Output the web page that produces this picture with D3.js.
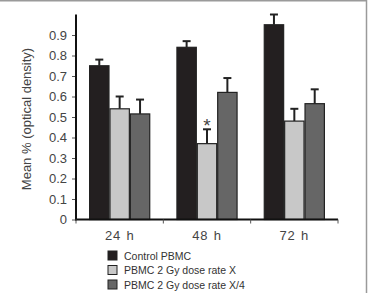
<!DOCTYPE html>
<html>
<head>
<meta charset="utf-8">
<script src="https://cdn.jsdelivr.net/npm/d3@7"></script>
<style>
  body { margin: 0; background: #fff; }
  svg { display: block; font-family: "Liberation Sans", Arial, sans-serif; }
</style>
</head>
<body>
<svg id="chart" width="369" height="293"></svg>
<script>
const categories = ['24 h', '48 h', '72 h'];
const seriesNames = ['Control PBMC', 'PBMC 2 Gy dose rate X', 'PBMC 2 Gy dose rate X/4'];
const controlValues = [0.75, 0.84, 0.95];
const doseXValues = [0.54, 0.37, 0.48];
const doseX4Values = [0.515, 0.62, 0.565];
const controlErr = [0.03, 0.03, 0.05];
const doseXErr = [0.06, 0.07, 0.06];
const doseX4Err = [0.07, 0.07, 0.07];
const yTicks = [0, 0.1, 0.2, 0.3, 0.4, 0.5, 0.6, 0.7, 0.8, 0.9];
const starred = [{ cat: '48 h', series: 1 }];

const colors = ['#231f20', '#c8c8c8', '#666666'];

const svg = d3.select('#chart');
const width = 369;
const height = 293;

const plotLeft = 76;
const plotRight = 338;
const plotTop = 14.5;
const plotBottom = 219.5;

// frame lines (top and right edge)
svg.append('line')
  .attr('x1', 0).attr('x2', 367).attr('y1', 0.75).attr('y2', 0.75)
  .attr('stroke', '#9a9a9a').attr('stroke-width', 1.5);
svg.append('line')
  .attr('x1', 366.5).attr('x2', 366.5).attr('y1', 0).attr('y2', height)
  .attr('stroke', '#9a9a9a').attr('stroke-width', 1.5);

const yScale = d3.scaleLinear()
  .domain([0, 1])
  .range([plotBottom, plotTop]);

const x0 = d3.scaleBand()
  .domain(categories)
  .range([plotLeft, plotRight])
  .paddingInner(0.3)
  .paddingOuter(0.15);

const x1 = d3.scaleBand()
  .domain([0, 1, 2])
  .range([0, x0.bandwidth()])
  .padding(0);

const values = [controlValues, doseXValues, doseX4Values];
const errs = [controlErr, doseXErr, doseX4Err];

const data = [];
categories.forEach((c, i) => {
  values.forEach((v, s) => {
    data.push({ cat: c, series: s, value: v[i], err: errs[s][i] });
  });
});

const g = svg.append('g');
const cx = d => x0(d.cat) + x1(d.series) + x1.bandwidth() / 2;

// error bars (upward only)
const eb = g.selectAll('.err')
  .data(data)
  .enter().append('g')
  .attr('class', 'err');
eb.append('line')
  .attr('x1', cx).attr('x2', cx)
  .attr('y1', d => yScale(d.value))
  .attr('y2', d => yScale(d.value + d.err))
  .attr('stroke', '#222').attr('stroke-width', 2);
eb.append('line')
  .attr('x1', d => cx(d) - 4)
  .attr('x2', d => cx(d) + 4)
  .attr('y1', d => yScale(d.value + d.err))
  .attr('y2', d => yScale(d.value + d.err))
  .attr('stroke', '#222').attr('stroke-width', 2);

// bars
g.selectAll('.bar')
  .data(data)
  .enter().append('rect')
  .attr('class', 'bar')
  .attr('x', d => x0(d.cat) + x1(d.series) + 0.5)
  .attr('width', x1.bandwidth() - 1)
  .attr('y', d => yScale(d.value))
  .attr('height', d => yScale(0) - yScale(d.value))
  .attr('fill', d => colors[d.series])
  .attr('stroke', '#222')
  .attr('stroke-width', 1.2);

// significance star
g.selectAll('.star')
  .data(starred)
  .enter().append('text')
  .attr('x', cx)
  .attr('y', d => {
    const i = categories.indexOf(d.cat);
    return yScale(values[d.series][i] + errs[d.series][i]) + 3;
  })
  .attr('text-anchor', 'middle')
  .attr('font-size', 19)
  .attr('fill', '#444')
  .text('*');

// y axis
const yAxis = svg.append('g')
  .attr('transform', `translate(${plotLeft},0)`)
  .call(d3.axisLeft(yScale).tickValues(yTicks).tickSize(4).tickPadding(5)
    .tickFormat(d => d === 0 ? '0' : d3.format('.1f')(d)));
yAxis.select('.domain').remove();
yAxis.append('line')
  .attr('x1', 0).attr('x2', 0).attr('y1', plotTop).attr('y2', plotBottom + 1)
  .attr('stroke', '#111').attr('stroke-width', 2);
yAxis.selectAll('.tick line').attr('stroke', '#555').attr('stroke-width', 1);
yAxis.selectAll('.tick text')
  .attr('font-size', 13)
  .attr('fill', '#444')
  .attr('font-family', '"Liberation Sans", Arial, sans-serif');

// x axis
const xAxis = svg.append('g')
  .attr('transform', `translate(0,${plotBottom})`);
xAxis.append('line')
  .attr('x1', plotLeft - 1).attr('x2', plotRight).attr('y1', 0).attr('y2', 0)
  .attr('stroke', '#111').attr('stroke-width', 2);
const bounds = categories.map(c => x0(c) - x0.step() * x0.paddingOuter());
bounds.push(plotRight);
xAxis.selectAll('.xtick')
  .data(bounds)
  .enter().append('line')
  .attr('x1', d => d).attr('x2', d => d)
  .attr('y1', 0).attr('y2', 4)
  .attr('stroke', '#555').attr('stroke-width', 1);
xAxis.selectAll('.xlabel')
  .data(categories)
  .enter().append('text')
  .attr('x', d => x0(d) + x0.bandwidth() / 2)
  .attr('y', 20)
  .attr('text-anchor', 'middle')
  .attr('font-size', 13)
  .attr('letter-spacing', 0.8)
  .attr('word-spacing', 1)
  .attr('fill', '#444')
  .text(d => d);

// y label
svg.append('text')
  .attr('transform', `translate(31,${(plotTop + plotBottom) / 2 + 2}) rotate(-90)`)
  .attr('text-anchor', 'middle')
  .attr('font-size', 13)
  .attr('fill', '#444')
  .text('Mean % (optical density)');

// legend
const legend = svg.append('g')
  .attr('transform', 'translate(108,251)');
const rows = legend.selectAll('.lg')
  .data(seriesNames)
  .enter().append('g')
  .attr('transform', (d, i) => `translate(0,${i * 14.5})`);
rows.append('rect')
  .attr('x', 0).attr('y', 0)
  .attr('width', 9).attr('height', 9)
  .attr('fill', (d, i) => colors[i])
  .attr('stroke', '#222').attr('stroke-width', 1);
rows.append('text')
  .attr('x', 16).attr('y', 8.5)
  .attr('font-size', 10.5)
  .attr('fill', '#333')
  .text(d => d);
</script>
</body>
</html>
